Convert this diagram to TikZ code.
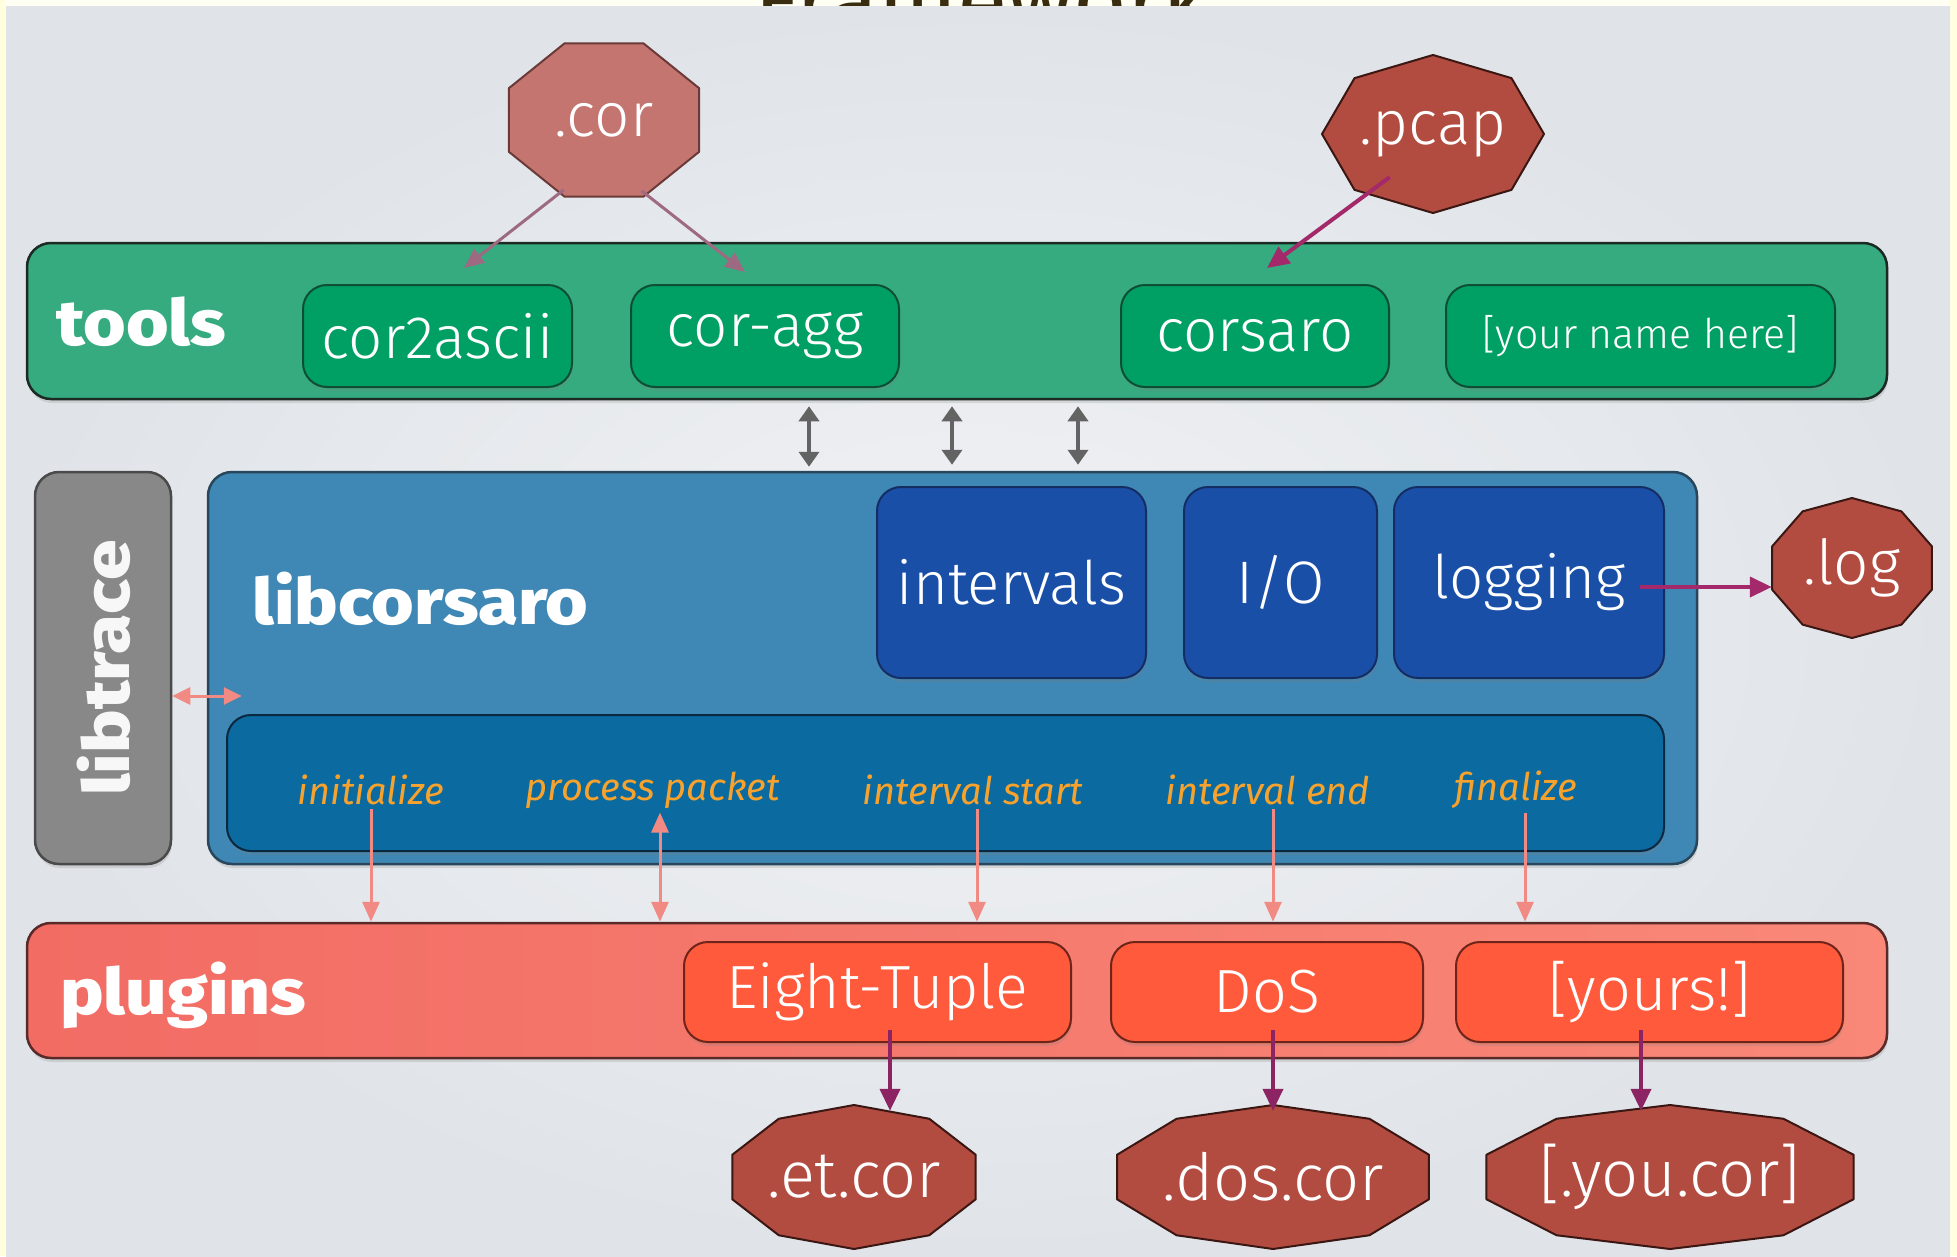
\documentclass[tikz,border=0pt]{standalone}
\usepackage{fontspec}
\setmainfont{Fira Sans}
\newfontfamily\lt{Fira Sans Light}
\newfontfamily\bk{Fira Sans ExtraBold}[FakeStretch=1.14]
\usetikzlibrary{arrows.meta,shapes.geometric,shadows,calc}
\pgfdeclarelayer{back}\pgfdeclarelayer{bg}\pgfsetlayers{back,bg,main}
\definecolor{titlec}{HTML}{3A2C0E}
\definecolor{ivory}{HTML}{FFFFF4}
\definecolor{yel}{HTML}{FFFFE0}
\definecolor{bgin}{HTML}{F1F2F4}
\definecolor{bgout}{HTML}{E0E4E9}
\definecolor{toolsg}{HTML}{35AB7F}
\definecolor{toolsd}{HTML}{1C2A24}
\definecolor{toolin}{HTML}{00A065}
\definecolor{toolind}{HTML}{0E4E34}
\definecolor{ltgray}{HTML}{888888}
\definecolor{ltgrayd}{HTML}{4A4A4A}
\definecolor{libc}{HTML}{3F87B4}
\definecolor{libcd}{HTML}{28465C}
\definecolor{modb}{HTML}{1A4FA8}
\definecolor{modbd}{HTML}{142E64}
\definecolor{hookb}{HTML}{0B6AA0}
\definecolor{hookbd}{HTML}{0A2840}
\definecolor{hooktxt}{HTML}{F7A22C}
\definecolor{plugl}{HTML}{F26C64}
\definecolor{plugr}{HTML}{F98878}
\definecolor{plugd}{HTML}{5A2A28}
\definecolor{plugin}{HTML}{FF5A3C}
\definecolor{plugind}{HTML}{6E2418}
\definecolor{outc}{HTML}{B34C40}
\definecolor{outd}{HTML}{3A1712}
\definecolor{corc}{HTML}{C57570}
\definecolor{cord}{HTML}{6A3A38}
\definecolor{pinka}{HTML}{F28A84}
\definecolor{maga}{HTML}{A3296A}
\definecolor{magb}{HTML}{8C2464}
\definecolor{mauve}{HTML}{9E6A82}
\definecolor{graya}{HTML}{636363}
% name, sides, start angle, fill, draw, rx, ry
\newcommand\polyfill[7]{%
  \begin{pgfonlayer}{bg}
  \draw[fill=#4, draw=#5, line width=2pt, line join=round]
    ($(#1.center)+(#3:#6 and #7)$) \foreach \k [evaluate=\k as \a using #3+\k*360/#2] in {1,...,#2} { -- ($(#1.center)+(\a:#6 and #7)$) } -- cycle;
  \end{pgfonlayer}}
\tikzset{
  shad/.style={drop shadow={opacity=0.22, shadow xshift=1pt, shadow yshift=-4pt}},
  lbl/.style={text=white, font=\lt\fontsize{60}{62}\selectfont, inner sep=0pt},
  blbl/.style={text=white, font=\bk\fontsize{64}{66}\selectfont, inner sep=0pt},
  hook/.style={text=hooktxt, font=\itshape\fontsize{38}{40}\selectfont, inner sep=4pt},
  bar/.style={draw=#1, rounded corners=24pt, line width=2.5pt, inner sep=0pt, shad},
  ibox/.style={draw=#1, rounded corners=24pt, line width=2pt, inner sep=0pt, shad},
  oct/.style={ellipse, inner sep=0pt, text=white, font=\lt\fontsize{62}{64}\selectfont},
  pinkarr/.style={draw=pinka, line width=3pt, -{Triangle[length=20pt,width=17pt]}},
  magarr/.style={draw=#1, line width=4pt, -{Triangle[length=22pt,width=20pt]}},
  grayarr/.style={draw=graya, line width=4pt, {Triangle[length=15pt,width=20pt]}-{Triangle[length=15pt,width=20pt]}},
}
\begin{document}
\begin{tikzpicture}[x=1pt,y=-1pt]
\useasboundingbox (0,0) rectangle (1957,1256);
\clip (0,0) rectangle (1957,1256);
\begin{pgfonlayer}{back}
\fill[ivory] (0,0) rectangle (1957,1256);
\fill[yel] (0,0) rectangle (6,1256);
\fill[yel] (1950,0) rectangle (1957,1256);
\node[anchor=base, text=titlec, font=\fontsize{92}{92}\selectfont, inner sep=0pt] (title) at (982,32) {Framework};
\shade[inner color=bgin, outer color=bgout] (6,6) rectangle (1950,1256);
\end{pgfonlayer}

% tools layer
\node[bar=toolsd, fill=toolsg, minimum width=1860pt, minimum height=156pt] (tools) at (957,321) {};
\node[blbl, anchor=west] (toolslbl) at (56,322) {tools};
\node[ibox=toolind, fill=toolin, minimum width=269pt, minimum height=102pt, lbl] (cor2ascii) at (437.5,336) {cor2ascii};
\node[ibox=toolind, fill=toolin, minimum width=268pt, minimum height=102pt, lbl] (coragg) at (765,336) {cor-agg};
\node[ibox=toolind, fill=toolin, minimum width=268pt, minimum height=102pt, lbl] (corsaro) at (1255,336) {corsaro};
\node[ibox=toolind, fill=toolin, minimum width=389pt, minimum height=102pt, lbl, font=\lt\fontsize{41}{43}\selectfont] (yourname) at (1640.5,336) {[your name here]};

% input files
\node[oct, minimum width=190pt, minimum height=154pt] (cor) at (604,120) {.cor};
\polyfill{cor}{8}{22.5}{corc}{cord}{103}{83}
\node[oct, minimum width=222pt, minimum height=158pt] (pcap) at (1433,134) {.pcap};
\polyfill{pcap}{8}{0}{outc}{outd}{111}{79}

\coordinate (c1) at (464,268);
\coordinate (c2) at (745,272);
\coordinate (c3) at (1267,268);
\draw[draw=mauve, line width=3pt, -{Triangle[length=20pt,width=17pt]}] (cor.240) -- (c1);
\draw[draw=mauve, line width=3pt, -{Triangle[length=20pt,width=17pt]}] (cor.298) -- (c2);
\draw[magarr=maga, shorten <=-32pt] (pcap.222) -- (c3);

% libtrace and libcorsaro
\node[bar=ltgrayd, fill=ltgray, minimum width=136pt, minimum height=392pt] (libtrace) at (103,668) {};
\node[blbl, rotate=90, text=white!94!gray] (libtracelbl) at (104,668) {libtrace};
\node[bar=libcd, fill=libc, minimum width=1489pt, minimum height=392pt] (libcorsaro) at (952.5,668) {};
\node[blbl, anchor=west] (libclbl) at (252,599) {libcorsaro};
\node[ibox=modbd, fill=modb, minimum width=269pt, minimum height=191pt, lbl] (intervals) at (1011.5,582.5) {intervals};
\node[ibox=modbd, fill=modb, minimum width=193pt, minimum height=191pt, lbl] (io) at (1280.5,582.5) {I/O};
\node[ibox=modbd, fill=modb, minimum width=270pt, minimum height=191pt, lbl] (logging) at (1529,582.5) {logging};
\node[oct, minimum width=160pt, minimum height=140pt] (dotlog) at (1852,568) {.log};
\polyfill{dotlog}{10}{18}{outc}{outd}{84}{70}
\coordinate (ly) at (0,587);
\draw[magarr=maga, shorten <=-25pt] (logging.east |- ly) -- (dotlog.west |- ly);

\node[ibox=hookbd, fill=hookb, minimum width=1437pt, minimum height=136pt] (hooks) at (945.5,783) {};
\node[hook] (hinit) at (371,790) {initialize};
\node[hook] (hproc) at (653,790) {process packet};
\node[hook] (hstart) at (973,790) {interval start};
\node[hook] (hend) at (1268,790) {interval end};
\node[hook] (hfin) at (1516,790) {finalize};

\coordinate (lt) at (0,696);
\draw[draw=pinka, line width=3pt, {Triangle[length=18pt,width=17pt]}-{Triangle[length=18pt,width=17pt]}, shorten >=-35pt] (libtrace.east |- lt) -- (libcorsaro.west |- lt);

% tools <-> libcorsaro
\coordinate (g1) at (809,0);
\coordinate (g2) at (952,0);
\coordinate (g3) at (1078,0);
\draw[grayarr] (tools.south -| g1) ++(0,6) -- ([yshift=4pt]libcorsaro.north -| g1);
\draw[grayarr] (tools.south -| g2) ++(0,6) -- ([yshift=6pt]libcorsaro.north -| g2);
\draw[grayarr] (tools.south -| g3) ++(0,6) -- ([yshift=6pt]libcorsaro.north -| g3);

% plugins
\node[bar=plugd, left color=plugl, right color=plugr, minimum width=1860pt, minimum height=135pt] (plugins) at (957,990.5) {};
\node[blbl, anchor=west] (pluglbl) at (60,995) {plugins};
\node[ibox=plugind, fill=plugin, minimum width=387pt, minimum height=100pt, lbl, font=\lt\fontsize{61}{63}\selectfont] (eight) at (877.5,992) {Eight-Tuple};
\node[ibox=plugind, fill=plugin, minimum width=312pt, minimum height=100pt, lbl, font=\lt\fontsize{61}{63}\selectfont] (dos) at (1267,992) {DoS};
\node[ibox=plugind, fill=plugin, minimum width=387pt, minimum height=100pt, lbl, font=\lt\fontsize{61}{63}\selectfont] (yours) at (1649.5,992) {[yours!]};

\coordinate (a1) at (371,0);
\coordinate (a2) at (660,0);
\coordinate (a3) at (977,0);
\coordinate (a4) at (1273,0);
\coordinate (a5) at (1525,0);
\draw[pinkarr] (hinit.south -| a1) -- (plugins.north -| a1);
\draw[pinkarr, {Triangle[length=20pt,width=17pt]}-{Triangle[length=20pt,width=17pt]}] (hproc.south -| a2) -- (plugins.north -| a2);
\draw[pinkarr] (hstart.south -| a3) -- (plugins.north -| a3);
\draw[pinkarr] (hend.south -| a4) -- (plugins.north -| a4);
\draw[pinkarr] (hfin.south -| a5) -- (plugins.north -| a5);

% outputs
\node[oct, minimum width=243pt, minimum height=144pt, font=\lt\fontsize{65}{67}\selectfont] (etcor) at (854,1177) {.et.cor};
\polyfill{etcor}{10}{18}{outc}{outd}{128}{72}
\node[oct, minimum width=312pt, minimum height=144pt, font=\lt\fontsize{65}{67}\selectfont] (doscor) at (1273,1177) {.dos.cor};
\polyfill{doscor}{10}{18}{outc}{outd}{164}{72}
\node[oct, minimum width=368pt, minimum height=144pt, font=\lt\fontsize{65}{67}\selectfont] (youcor) at (1670,1177) {[.you.cor]};
\polyfill{youcor}{10}{18}{outc}{outd}{193}{72}

\coordinate (o1) at (890,1030);
\coordinate (o2) at (1273,1030);
\coordinate (o3) at (1641,1030);
\draw[magarr=magb] (o1) -- ([yshift=-6pt]etcor.north -| o1);
\draw[magarr=magb] (o2) -- ([yshift=-6pt]doscor.north -| o2);
\draw[magarr=magb] (o3) -- ([yshift=-6pt]youcor.north -| o3);
\end{tikzpicture}
\end{document}
